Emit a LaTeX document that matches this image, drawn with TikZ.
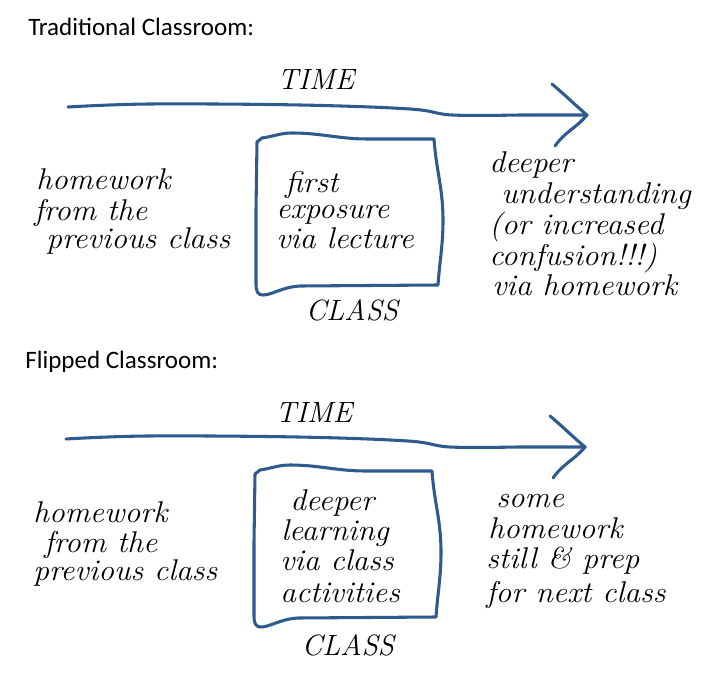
\documentclass[tikz,border=0pt]{standalone}
\usepackage{fontspec}
\usepackage{graphicx}
\newfontfamily\headfont{Carlito}
\definecolor{penblue}{HTML}{2F5A8E}
\newcommand{\hwline}[1]{\scalebox{1.05}[1]{#1}}
\tikzset{
  pen/.style={draw=penblue, line width=2.3pt, line cap=round, line join=round},
  head/.style={anchor=base west, inner sep=0pt, font=\headfont\fontsize{18.8}{22}\selectfont},
  hw/.style={anchor=base west, inner sep=0pt, font=\itshape\addfontfeatures{FakeBold=2}\fontsize{22.5}{24}\selectfont},
  caps/.style={anchor=base, inner sep=0pt, font=\itshape\addfontfeatures{FakeBold=2}\fontsize{22}{24}\selectfont},
}
\begin{document}
\begin{tikzpicture}[x=0.75pt, y=-0.75pt]
\useasboundingbox (0,0) rectangle (717,681);
\fill[white] (0,0) rectangle (717,681);

% ---------- shared sketch: arrow + box, drawn twice ----------
\foreach \dx/\dy/\nm in {0/0/a, -2/332/b} {
\begin{scope}[shift={(\dx,\dy)}]
  \coordinate (start\nm) at (68,107);
  \coordinate (tip\nm) at (587,115);
  \coordinate (up\nm) at (552,84);
  \coordinate (dn\nm) at (555,146);
  \draw[pen] plot[smooth, tension=0.6] coordinates {(68,107) (150,104) (300,105) (410,109) (452,115) (520,115)} -- (tip\nm);
  \draw[pen] (up\nm) to[out=-40,in=140] (tip\nm) to[out=-130,in=55] (dn\nm);
  \draw[pen] (257,142) -- (262,138) to[out=8,in=180] (292,133)
     to[out=0,in=180] (368,139) -- (434,139)
     to[out=-86,in=90] (443,220) to[out=-90,in=86] (438,285)
     -- (300,286) .. controls (282,287) and (272,295) .. (263,295)
     .. controls (258,295) and (256,292) .. (256,284)
     -- (256,210) -- cycle;
\end{scope}
}

% ---------- Traditional ----------
\node[head] (t1) at (28,36) {Traditional Classroom:};
\node[caps] (time1) at (316,90) {TIME};
\node[caps] (class1) at (352,320) {CLASS};

\node[hw] (l1a) at (36,190) {\hwline{homework}};
\node[hw] (l1b) at (34,220) {\hwline{from the}};
\node[hw] (l1c) at (46,248) {\hwline{previous class}};

\node[hw] (c1a) at (285,192) {\hwline{first}};
\node[hw] (c1b) at (276,219) {\hwline{exposure}};
\node[hw] (c1c) at (276,248) {\hwline{via lecture}};

\node[hw] (r1a) at (489,173) {\hwline{deeper}};
\node[hw] (r1b) at (501,203) {\hwline{understanding}};
\node[hw] (r1c) at (489,234) {\hwline{(or increased}};
\node[hw] (r1d) at (489,265) {\hwline{confusion!!!)}};
\node[hw] (r1e) at (492,295) {\hwline{via homework}};

% ---------- Flipped ----------
\node[head] (t2) at (25,368) {Flipped Classroom:};
\node[caps] (time2) at (314,422) {TIME};
\node[caps] (class2) at (348,655) {CLASS};

\node[hw] (l2a) at (33,522) {\hwline{homework}};
\node[hw] (l2b) at (44,552) {\hwline{from the}};
\node[hw] (l2c) at (33,580) {\hwline{previous class}};

\node[hw] (c2a) at (290,510) {\hwline{deeper}};
\node[hw] (c2b) at (281,540) {\hwline{learning}};
\node[hw] (c2c) at (280,570) {\hwline{via class}};
\node[hw] (c2d) at (280,602) {\hwline{activities}};

\node[hw] (r2a) at (496,507) {\hwline{some}};
\node[hw] (r2b) at (488,538) {\hwline{homework}};
\node[hw] (r2c) at (486,568) {\hwline{still \& prep}};
\node[hw] (r2d) at (486,602) {\hwline{for next class}};
\end{tikzpicture}
\end{document}
